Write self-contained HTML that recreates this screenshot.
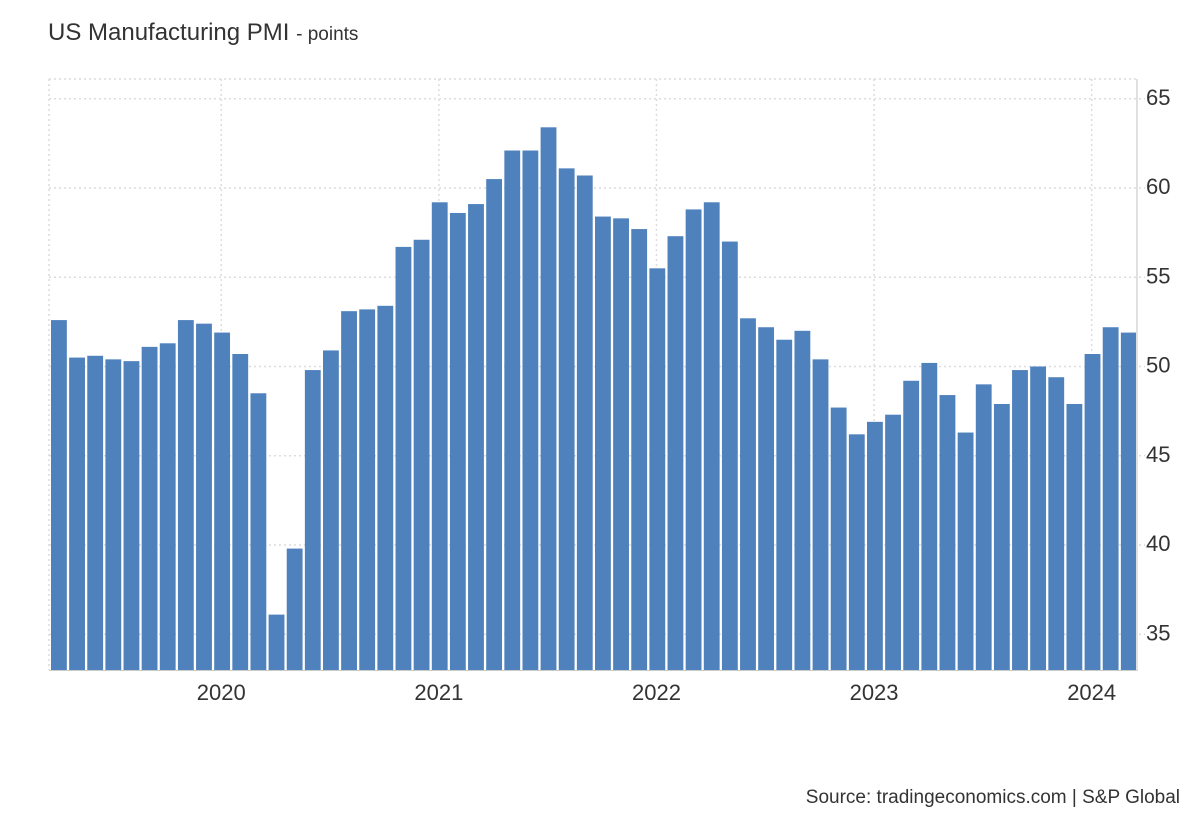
<!DOCTYPE html>
<html><head><style>
body{margin:0;background:#fff;width:1200px;height:820px;overflow:hidden;font-family:"Liberation Sans",Arial,sans-serif}
</style></head><body>
<svg width="1200" height="820" xmlns="http://www.w3.org/2000/svg" font-family="Liberation Sans, Arial, sans-serif">
<text x="48" y="40" font-size="24" fill="#333">US Manufacturing PMI <tspan font-size="19">- points</tspan></text>
<g id="grid" stroke="#dcdcdc" stroke-width="1.5" stroke-dasharray="2,3" fill="none"></g>
<g id="bars" fill="#4f81bd"></g>
<line x1="1137" y1="79" x2="1137" y2="671" stroke="#e0e0e0" stroke-width="2"/>
<line x1="49" y1="670.5" x2="1137" y2="670.5" stroke="#ccc" stroke-width="1"/>
<g id="yl" font-size="22" fill="#333"></g>
<g id="xl" font-size="22" fill="#333" text-anchor="middle"></g>
<text x="1180" y="803" font-size="19" fill="#333" text-anchor="end">Source: tradingeconomics.com | S&amp;P Global</text>
</svg>
<script>
var v=[52.6,50.5,50.6,50.4,50.3,51.1,51.3,52.6,52.4,51.9,50.7,48.5,36.1,39.8,49.8,50.9,53.1,53.2,53.4,56.7,57.1,59.2,58.6,59.1,60.5,62.1,62.1,63.4,61.1,60.7,58.4,58.3,57.7,55.5,57.3,58.8,59.2,57.0,52.7,52.2,51.5,52.0,50.4,47.7,46.2,46.9,47.3,49.2,50.2,48.4,46.3,49.0,47.9,49.8,50.0,49.4,47.9,50.7,52.2,51.9];
var ns="http://www.w3.org/2000/svg";
function el(t,a,p,txt){var e=document.createElementNS(ns,t);for(var k in a)e.setAttribute(k,a[k]);if(txt)e.textContent=txt;document.getElementById(p).appendChild(e);}
function Y(x){return 188-(x-60)*17.85;}
var w=1088/60;
el('line',{x1:49,y1:79,x2:1137,y2:79},'grid');
el('line',{x1:49,y1:79,x2:49,y2:670},'grid');
[65,60,55,50,45,40,35].forEach(function(t){var y=Y(t);el('line',{x1:49,y1:y,x2:1145,y2:y},'grid');el('text',{x:1146,y:y+6},'yl',''+t);});
['2020','2021','2022','2023','2024'].forEach(function(s,i){var x=49+w*(9.5+12*i);el('line',{x1:x,y1:79,x2:x,y2:670},'grid');el('text',{x:x,y:700},'xl',s);});
v.forEach(function(d,i){var y=Y(d);el('rect',{x:49+w*i+2,y:y,width:w-2.3,height:670-y},'bars');});
</script>
</body></html>
